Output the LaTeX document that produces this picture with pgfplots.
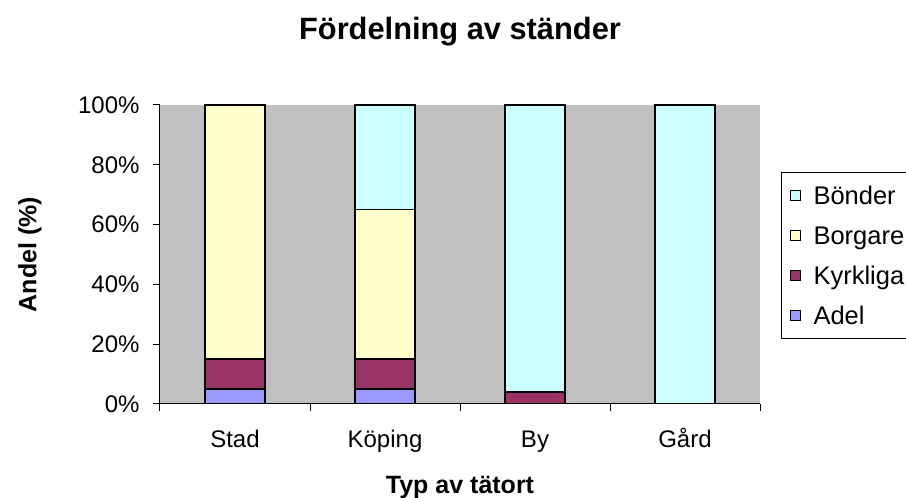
\documentclass[border=0pt]{standalone}
\usepackage{pgfplots}
\pgfplotsset{compat=1.18}
\usepackage{pgfplotstable}
\usepackage{fontspec}
\setmainfont{Liberation Sans}
\definecolor{excelgray}{HTML}{C0C0C0}
\definecolor{adel}{HTML}{9999FF}
\definecolor{kyrk}{HTML}{993366}
\definecolor{borg}{HTML}{FFFFCC}
\definecolor{bond}{HTML}{CCFFFF}
\pgfplotstableread{
x Adel Kyrkliga Borgare Bonder
0 5 10 85 0
1 5 10 50 35
2 0 4 0 96
3 0 0 0 100
}\datatable
\begin{document}
\begin{tikzpicture}[x=1pt,y=1pt]
\path[use as bounding box] (0,0) rectangle (906,498);
\begin{axis}[
  at={(160pt,94pt)}, anchor=south west,
  scale only axis, width=600pt, height=299pt,
  ybar stacked, bar width=0.4,
  xmin=-0.5, xmax=3.5, ymin=0, ymax=100,
  axis x line*=bottom, axis y line*=left,
  axis line style={black, line width=1pt, -},
  axis background/.style={fill=excelgray},
  tick align=outside, major tick length=7pt,
  tick style={black, line width=1pt},
  xtick={-0.5,0.5,1.5,2.5,3.5},
  x tick label as interval,
  xticklabels={Stad,Köping,By,Gård},
  ytick={0,20,40,60,80,100},
  yticklabel={\pgfmathprintnumber{\tick}\%},
  /pgf/number format/assume math mode=true,
  ticklabel style={font=\fontsize{24}{29}\selectfont},
  xticklabel style={text height=18pt, text depth=5pt, anchor=north, yshift=-15pt},
  yticklabel style={xshift=-10pt},
  title={\bfseries Fördelning av ständer},
  title style={font=\fontsize{30.8}{36}\selectfont, at={(axis description cs:0.5,1.198)}, anchor=base},
  xlabel={\bfseries Typ av tätort},
  xlabel style={font=\fontsize{25}{30}\selectfont, at={(axis description cs:0.5,-0.301)}, anchor=base},
  ylabel={\bfseries Andel (\%)},
  ylabel style={font=\fontsize{25}{30}\selectfont, at={(axis description cs:-0.217,0.5)}, anchor=center, rotate=0},
  legend reversed,
  legend cell align=left,
  legend style={at={(axis description cs:1.035,0.7759)}, anchor=north west,
    draw=black, line width=1pt, fill=white,
    font=\fontsize{25.5}{30}\selectfont, row sep=10pt, inner xsep=8pt, inner ysep=8pt,
    nodes={text height=22pt, text depth=4pt},
    /tikz/every odd column/.append style={column sep=11pt}},
  legend image code/.code={\draw[#1, line width=1pt] (0pt,-5pt) rectangle (10pt,5pt);},
  every axis plot/.append style={draw=black, line width=1.5pt},
]
\addplot[fill=adel] table[x=x,y=Adel]{\datatable};
\addplot[fill=kyrk] table[x=x,y=Kyrkliga]{\datatable};
\addplot[fill=borg] table[x=x,y=Borgare]{\datatable};
\addplot[fill=bond] table[x=x,y=Bonder]{\datatable};
\legend{Adel,Kyrkliga,Borgare,Bönder}
\end{axis}
\end{tikzpicture}
\end{document}
